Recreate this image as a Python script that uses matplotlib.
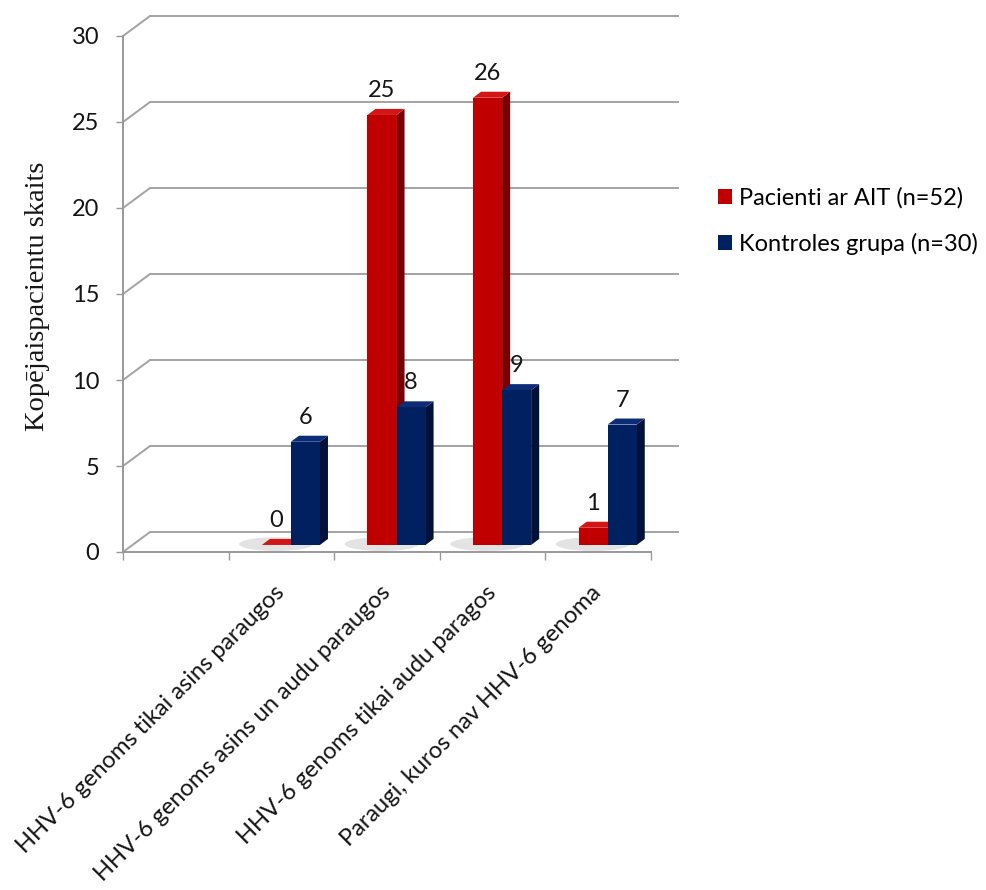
import matplotlib
matplotlib.use("Agg")
import matplotlib.pyplot as plt
from matplotlib.patches import Polygon, Patch, Ellipse

# ---- data ----
categories = ["", "HHV-6 genoms tikai asins paraugos", "HHV-6 genoms asins un audu paraugos",
              "HHV-6 genoms tikai audu paragos", "Paraugi, kuros nav HHV-6 genoma"]
series_names = ["Pacienti ar AIT (n=52)", "Kontroles grupa (n=30)"]
patients = [None, 0, 25, 26, 1]
controls = [None, 6, 8, 9, 7]
yticks = [0, 5, 10, 15, 20, 25, 30]
ylabel = "Kopējaispacientu skaits"

# ---- style ----
W, H = 986, 890
FONT = "Lato"
FS = 17
plt.rcParams["font.family"] = [FONT, "DejaVu Sans"]
red_f, red_s, red_t = "#C00000", "#780000", "#D41515"
blu_f, blu_s, blu_t = "#002060", "#00113A", "#0C2C78"
grid_c = "#A3A3A3"
txt_c = "#151515"

fig = plt.figure(figsize=(W / 100, H / 100), dpi=100)
ax = fig.add_axes([123 / W, 1 - 552 / H, (651 - 123) / W, (552 - 36) / H])
n = len(categories)
ax.set_xlim(0, n)
ax.set_ylim(0, yticks[-1])

# depth of the 3D box (x in category units, y in value units)
DX, DY = 0.256, 1.163
# bar placement inside the box
BX, BY = 0.09, 0.41
BW = 0.275
SX, SY = 0.076, 0.35

# back wall gridlines
for v in yticks:
    ax.plot([0, DX, n + DX], [v, v + DY, v + DY], color=grid_c, lw=1.4,
            clip_on=False, zorder=1, solid_joinstyle="miter")

# spines / ticks
for s in ["top", "right"]:
    ax.spines[s].set_visible(False)
for s in ["left", "bottom"]:
    ax.spines[s].set_color("#999999")
    ax.spines[s].set_linewidth(1.4)
ax.set_yticks(yticks)
ax.set_yticklabels([str(v) for v in yticks], fontsize=FS, color=txt_c)
ax.tick_params(axis="y", direction="out", length=5, width=1.0, color="#999999", pad=12)
ax.set_xticks(range(n + 1))
ax.set_xticklabels([""] * (n + 1))
ax.tick_params(axis="x", which="major", direction="out", length=6, width=1.0, color="#999999")
ax.set_xticks([i + 0.5 for i in range(n)], minor=True)
ax.set_xticklabels(categories, minor=True, rotation=45, ha="right", va="center",
                   rotation_mode="anchor", fontsize=FS, color=txt_c)
ax.tick_params(axis="x", which="minor", length=0, pad=27)


def bar3d(x0, v, cf, cs, ct):
    y0 = BY
    x1 = x0 + BW
    top = y0 + v
    ax.add_patch(Polygon([(x0, y0), (x1, y0), (x1, top), (x0, top)], closed=True,
                         fc=cf, ec="none", zorder=4, clip_on=False))
    ax.add_patch(Polygon([(x1, y0), (x1 + SX, y0 + SY), (x1 + SX, top + SY), (x1, top)],
                         closed=True, fc=cs, ec="none", zorder=3, clip_on=False))
    ax.add_patch(Polygon([(x0, top), (x0 + SX, top + SY), (x1 + SX, top + SY), (x1, top)],
                         closed=True, fc=ct, ec="none", zorder=3, clip_on=False))
    ax.annotate(str(v), (x0 + BW / 2, top), xytext=(0, 18), textcoords="offset pixels",
                ha="center", va="baseline", fontsize=FS, color=txt_c,
                annotation_clip=False, zorder=6)


for i in range(n):
    if patients[i] is None:
        continue
    cx = i + 0.5 + BX
    # soft shadow
    ax.add_patch(Ellipse((cx - 0.14, BY + 0.05), 0.7, 0.8, fc="#dcdcdc", ec="none",
                         alpha=0.8, zorder=2, clip_on=False))
    bar3d(cx - BW, patients[i], red_f, red_s, red_t)
    bar3d(cx, controls[i], blu_f, blu_s, blu_t)

ax.patch.set_visible(False)

fig.text(38 / W, 1 - 296 / H, ylabel, rotation=90, ha="center", va="center",
         fontsize=20.5, family="Liberation Serif", color=txt_c)

handles = [Patch(fc=red_f, ec="none"), Patch(fc=blu_f, ec="none")]
ax.legend(handles, series_names, loc="center left", bbox_to_anchor=(718 / W, 1 - 221 / H),
          bbox_transform=fig.transFigure, frameon=False, fontsize=FS,
          handlelength=0.6, handleheight=0.6, handletextpad=0.3, labelspacing=1.0,
          borderaxespad=0, borderpad=0)

fig.savefig("out.png", dpi=100)
